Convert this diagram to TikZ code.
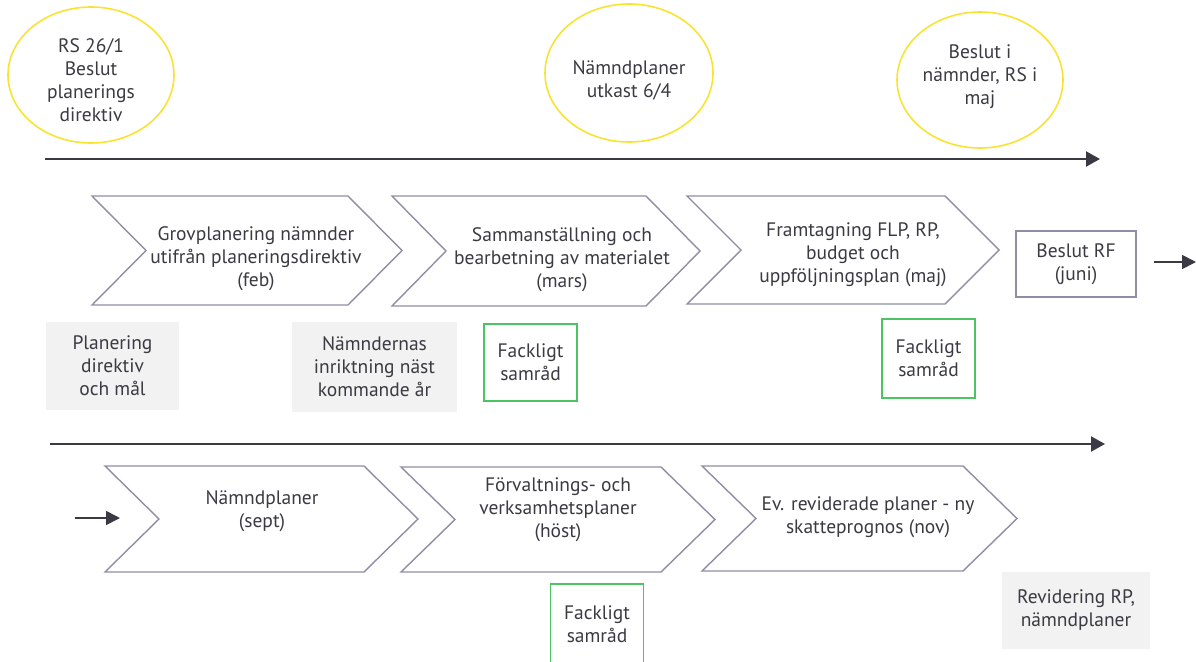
\documentclass[tikz,border=0pt]{standalone}
\usepackage{fontspec}
\setmainfont{PT Sans}
\usetikzlibrary{shapes.geometric,arrows.meta}
\definecolor{txtc}{HTML}{3A3A42}
\definecolor{chevc}{HTML}{8E8EA6}
\definecolor{ellc}{HTML}{F8E332}
\definecolor{grnc}{HTML}{4CC464}
\definecolor{grayf}{HTML}{F2F2F2}
\definecolor{arrc}{HTML}{3A3A44}
\newcommand\mychev[8]{%
  \draw[chevline] (#2,#4) -- ({#3-54},#4) -- (#3,{(#4+#5)/2}) -- ({#3-54},#5) -- (#2,#5) -- ({#2+54},{(#4+#5)/2}) -- cycle;
  \node[txt] (#1) at (#6,#7) {#8};}
\begin{document}
\begin{tikzpicture}[x=1pt,y=-1pt,
  txt/.style={font=\fontsize{19.5}{23}\selectfont,text=txtc,align=center,inner sep=0pt},
  chevline/.style={draw=chevc,line width=1.4pt,line join=miter},
  ell/.style={ellipse,draw=ellc,line width=1.6pt,inner sep=0pt},
  graybox/.style={txt,fill=grayf,minimum width=#1,inner sep=0pt},
  grnbox/.style={txt,draw=grnc,line width=1.4pt,minimum width=93pt},
  rfbox/.style={txt,draw=chevc,line width=1.4pt,minimum width=120pt,minimum height=66pt},
  bigarrow/.style={draw=arrc,line width=2.2pt,-{Triangle[length=14pt,width=15pt]}},
  smallarrow/.style={draw=arrc,line width=1.6pt,-{Triangle[length=14pt,width=14pt]}}]
\useasboundingbox (0,0) rectangle (1196,661);

% ellipses
\node[ell,minimum width=166pt,minimum height=136pt] (e1) at (91,75) {};
\node[txt] (e1t) at (91,80) {RS 26/1\\Beslut\\planerings\\direktiv};
\node[ell,minimum width=168pt,minimum height=138pt] (e2) at (629,73) {};
\node[txt] (e2t) at (629,80) {Nämndplaner\\utkast 6/4};
\node[ell,minimum width=166pt,minimum height=136pt] (e3) at (980,80) {};
\node[txt] (e3t) at (980,77) {Beslut i\\nämnder, RS i\\maj};

% timelines
\coordinate (t1s) at (45,159);
\coordinate (t1e) at (1100,159);
\draw[bigarrow] (t1s) -- (t1e);
\coordinate (t2s) at (50,444);
\coordinate (t2e) at (1105,444);
\draw[bigarrow] (t2s) -- (t2e);

% top chevrons
\mychev{c1}{92}{402}{196}{305}{256}{259}{Grovplanering nämnder\\utifrån planeringsdirektiv\\(feb)}
\mychev{c2}{392}{700}{196}{306}{562}{260}{Sammanställning och\\bearbetning av materialet\\(mars)}
\mychev{c3}{687}{999}{196}{304}{853}{255}{Framtagning FLP, RP,\\budget och\\uppföljningsplan (maj)}

\node[rfbox] (rf) at (1076,264) {Beslut RF\\(juni)};
\coordinate (rfa) at (1154,262);
\coordinate (rfb) at (1196,262);
\draw[smallarrow] (rfa) -- (rfb);

% boxes row 1
\node[graybox=133pt,minimum height=88pt] (g1) at (112.5,366) {Planering\\direktiv\\och mål};
\node[graybox=165pt,minimum height=90pt] (g2) at (374.5,367) {Nämndernas\\inriktning näst\\kommande år};
\node[grnbox,minimum height=77pt] (f1) at (530.5,362.5) {Fackligt\\samråd};
\node[grnbox,minimum height=79pt] (f2) at (928.5,358.5) {Fackligt\\samråd};

% bottom chevrons
\coordinate (ba) at (75,518);
\coordinate (bb) at (120,518);
\draw[smallarrow] (ba) -- (bb);
\mychev{c4}{105}{418}{466}{572}{262}{511}{Nämndplaner\\(sept)}
\mychev{c5}{401}{715}{467}{572}{558}{510}{Förvaltnings- och\\verksamhetsplaner\\(höst)}
\mychev{c6}{702}{1017}{466}{571}{868}{517}{Ev. reviderade planer - ny\\skatteprognos (nov)}

\node[grnbox,minimum height=80pt] (f3) at (597,624) {Fackligt\\samråd};
\node[graybox=148pt,minimum height=77pt] (g3) at (1076,610.5) {Revidering RP,\\nämndplaner};
\end{tikzpicture}
\end{document}
